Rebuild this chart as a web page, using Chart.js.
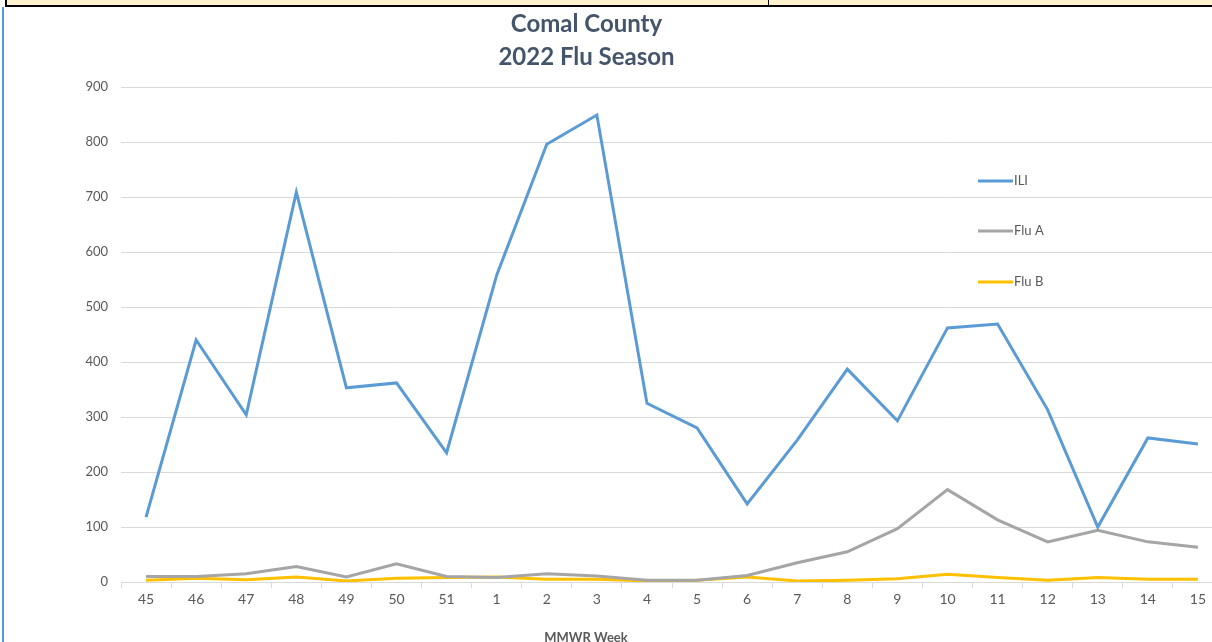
<!DOCTYPE html>
<html>
<head>
<meta charset="utf-8">
<script src="https://cdn.jsdelivr.net/npm/chart.js@4"></script>
<style>
  html, body { margin: 0; padding: 0; background: #fff; }
  #wrap { position: relative; width: 1212px; height: 642px; overflow: hidden; background: #fff; }
  #c { position: absolute; left: -50px; top: 0; }
  .deco { position: absolute; z-index: 2; }
</style>
</head>
<body>
<div id="wrap">
  <canvas id="c" width="1276" height="660"></canvas>
  <div class="deco" style="left:7px;top:0;width:1205px;height:5px;background:#FFF2CC;"></div>
  <div class="deco" style="left:5px;top:5px;width:1207px;height:2px;background:#000;"></div>
  <div class="deco" style="left:5px;top:0;width:2px;height:7px;background:#000;"></div>
  <div class="deco" style="left:768px;top:0;width:1px;height:6px;background:#000;"></div>
  <div class="deco" style="left:2px;top:7px;width:2px;height:635px;background:#5B9BD5;"></div>
</div>
<script>
const weeks = ['45','46','47','48','49','50','51','1','2','3','4','5','6','7','8','9','10','11','12','13','14','15'];
const ili   = [118, 440, 304, 709, 353, 362, 235, 558, 796, 849, 325, 280, 142, 258, 387, 293, 462, 469, 313, 100, 262, 251];
const fluA  = [10, 10, 15, 28, 9, 33, 10, 8, 15, 11, 3, 3, 12, 35, 55, 97, 168, 113, 73, 94, 73, 63];
const fluB  = [3, 7, 4, 9, 2, 7, 8, 9, 5, 5, 2, 3, 9, 2, 3, 6, 14, 8, 3, 8, 5, 5];
const seriesNames = ['ILI', 'Flu A', 'Flu B'];
const seriesColors = ['#5B9BD5', '#A5A5A5', '#FFC000'];
const yTicks = [0, 100, 200, 300, 400, 500, 600, 700, 800, 900];
const titleLines = ['Comal County', '2022 Flu Season'];
const xAxisTitle = 'MMWR Week';

const FONT = 'Lato, "Open Sans", "Liberation Sans", sans-serif';
const SHIFT = 50; // canvas is shifted left by this many px

const insideLegend = {
  id: 'insideLegend',
  afterDatasetsDraw(chart) {
    const ctx = chart.ctx;
    const a = chart.chartArea;
    const x0 = a.left + 857;
    const ys = [181, 231, 282];
    ctx.save();
    chart.data.datasets.forEach((ds, i) => {
      ctx.strokeStyle = ds.borderColor;
      ctx.lineWidth = 3;
      ctx.beginPath();
      ctx.moveTo(x0, ys[i]);
      ctx.lineTo(x0 + 35, ys[i]);
      ctx.stroke();
      ctx.fillStyle = '#595959';
      ctx.font = '13px ' + FONT;
      ctx.textBaseline = 'middle';
      ctx.textAlign = 'left';
      ctx.fillText(ds.label, x0 + 36, ys[i]);
    });
    // x-axis title (centered under the page, as in the reference)
    ctx.font = 'bold 13px ' + FONT;
    ctx.textAlign = 'center';
    ctx.fillText(xAxisTitle, 586 + SHIFT, 638);
    ctx.restore();
  }
};

const datasets = [ili, fluA, fluB].map((d, i) => ({
  label: seriesNames[i],
  data: d,
  borderColor: seriesColors[i],
  backgroundColor: seriesColors[i],
  borderWidth: 3,
  pointRadius: 0,
  tension: 0,
  fill: false
}));

new Chart(document.getElementById('c'), {
  type: 'line',
  data: { labels: weeks, datasets: datasets },
  options: {
    responsive: false,
    animation: false,
    devicePixelRatio: 1,
    layout: { padding: { left: 0, right: 3, top: 0, bottom: 0 } },
    plugins: {
      legend: { display: false },
      tooltip: { enabled: false },
      title: {
        display: true,
        text: titleLines,
        color: '#44546A',
        font: { family: FONT, size: 24, weight: 'bold', lineHeight: 1.375 },
        padding: { top: 7.5, bottom: 13.5 }
      }
    },
    scales: {
      x: {
        offset: true,
        afterFit(scale) { scale.height = 78; },
        grid: {
          offset: true,
          drawOnChartArea: false,
          drawTicks: true,
          tickLength: 6,
          color: '#D9D9D9'
        },
        border: { display: true, color: '#D9D9D9', width: 1 },
        ticks: {
          color: '#595959',
          font: { family: FONT, size: 14 },
          padding: 3,
          maxRotation: 0,
          autoSkip: false
        }
      },
      y: {
        min: 0,
        max: 900,
        afterFit(scale) { scale.width = 121 + SHIFT; },
        afterBuildTicks(scale) { scale.ticks = yTicks.map(v => ({ value: v })); },
        grid: { drawTicks: false, color: '#D9D9D9' },
        border: { display: false },
        ticks: {
          color: '#595959',
          font: { family: FONT, size: 13 },
          padding: 13
        }
      }
    }
  },
  plugins: [insideLegend]
});
</script>
</body>
</html>
